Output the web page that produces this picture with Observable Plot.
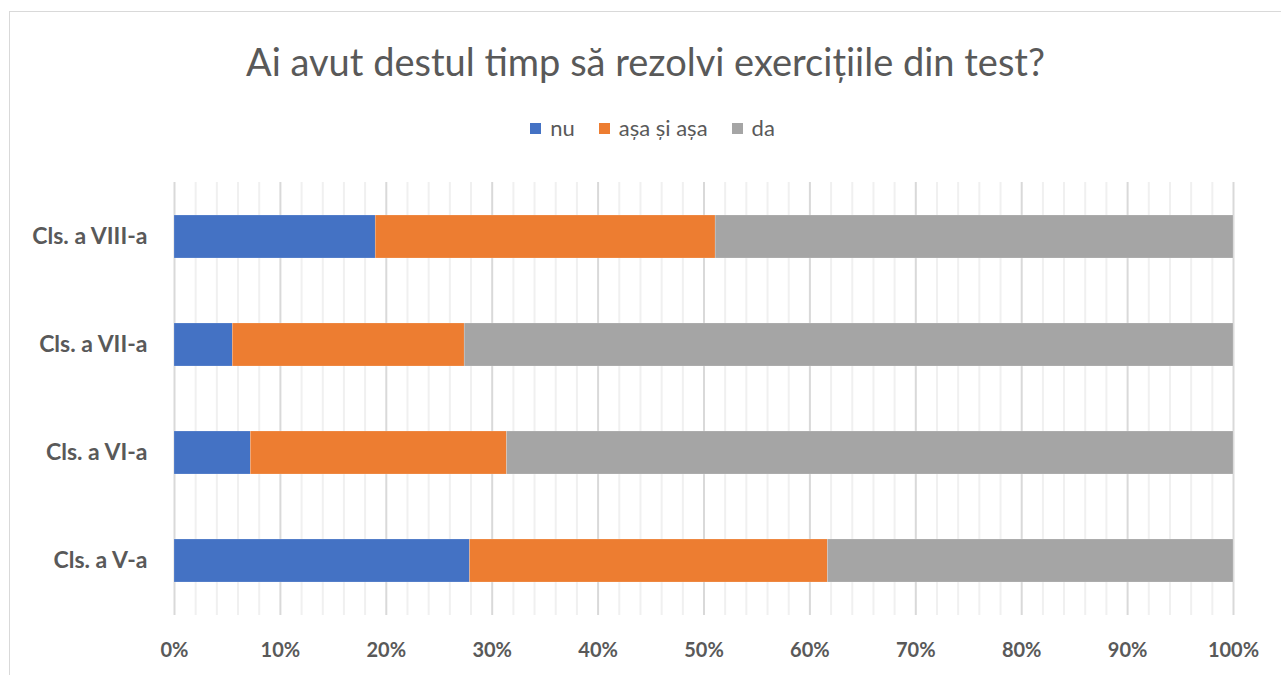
<!DOCTYPE html>
<html>
<head>
<meta charset="utf-8">
<script src="https://cdn.jsdelivr.net/npm/d3@7"></script>
<script src="https://cdn.jsdelivr.net/npm/@observablehq/plot@0.6"></script>
<style>
  html, body { margin: 0; padding: 0; background: #fff; }
  body { width: 1281px; height: 675px; position: relative; overflow: hidden; font-family: Lato, "Open Sans", sans-serif; }
  #frame { position: absolute; left: 9px; top: 11px; width: 1290px; height: 700px; border-left: 1px solid #d9d9d9; border-top: 1px solid #d9d9d9; }
  #title { position: absolute; left: 5px; width: 1281px; top: 39px; text-align: center; font-size: 38px; font-weight: 400; color: #595959; line-height: 44px; }
  #legend { position: absolute; left: 12px; width: 1281px; top: 115px; display: flex; justify-content: center; align-items: center; font-size: 22px; color: #595959; line-height: 26px; }
  .item { display: flex; align-items: center; margin: 0 12px; }
  .sw { width: 11px; height: 11px; margin-right: 9px; }
  #chart { position: absolute; left: 0; top: 160px; }
</style>
</head>
<body>
<div id="frame"></div>
<div id="title"></div>
<div id="legend"></div>
<div id="chart"></div>
<script>
const titleText = "Ai avut destul timp să rezolvi exercițiile din test?";
const categories = ["Cls. a VIII-a", "Cls. a VII-a", "Cls. a VI-a", "Cls. a V-a"];
const seriesNames = ["nu", "așa și așa", "da"];
const seriesColors = ["#4472C4", "#ED7D31", "#A5A5A5"];
const nu = [19.0, 5.5, 7.2, 27.9];
const asa = [32.1, 21.9, 24.2, 33.8];
const da = [48.9, 72.6, 68.6, 38.3];
const majorTicks = [0, 10, 20, 30, 40, 50, 60, 70, 80, 90, 100];
const tickLabels = ["0%", "10%", "20%", "30%", "40%", "50%", "60%", "70%", "80%", "90%", "100%"];
const minorTicks = [2, 4, 6, 8, 12, 14, 16, 18, 22, 24, 26, 28, 32, 34, 36, 38, 42, 44, 46, 48, 52, 54, 56, 58, 62, 64, 66, 68, 72, 74, 76, 78, 82, 84, 86, 88, 92, 94, 96, 98];

document.getElementById("title").textContent = titleText;
const legend = document.getElementById("legend");
seriesNames.forEach((s, i) => {
  const it = document.createElement("div");
  it.className = "item";
  const sw = document.createElement("div");
  sw.className = "sw";
  sw.style.background = seriesColors[i];
  const t = document.createElement("span");
  t.textContent = s;
  it.appendChild(sw); it.appendChild(t);
  legend.appendChild(it);
});

const seriesValues = [nu, asa, da];
const rows = [];
categories.forEach((c, ci) => {
  seriesNames.forEach((s, si) => {
    rows.push({category: c, series: s, value: seriesValues[si][ci]});
  });
});

const chart = Plot.plot({
  width: 1281,
  height: 515,
  marginTop: 22,
  marginBottom: 60,
  marginLeft: 174,
  marginRight: 48,
  style: { fontFamily: "Lato, 'Open Sans', sans-serif", color: "#595959", background: "transparent" },
  x: { domain: [0, 100] },
  y: { domain: categories, paddingInner: 0.6, paddingOuter: 0.3 },
  color: { domain: seriesNames, range: seriesColors },
  marks: [
    Plot.ruleX(minorTicks, { stroke: "#f0f0f0", strokeWidth: 2 }),
    Plot.ruleX(majorTicks, { stroke: "#d9d9d9", strokeWidth: 2 }),
    Plot.barX(rows, { x: "value", y: "category", fill: "series", stroke: "#ffffff", strokeOpacity: 0.35, strokeWidth: 0.5 }),
    Plot.axisX({ ticks: majorTicks, tickFormat: (d) => tickLabels[majorTicks.indexOf(d)], tickSize: 0, tickPadding: 27, fontSize: 20, fontWeight: "bold", fill: "#595959", label: null }),
    Plot.axisY({ tickSize: 0, tickPadding: 27, fontSize: 23, fontWeight: "bold", fill: "#595959", label: null })
  ]
});
document.getElementById("chart").appendChild(chart);
</script>
</body>
</html>
